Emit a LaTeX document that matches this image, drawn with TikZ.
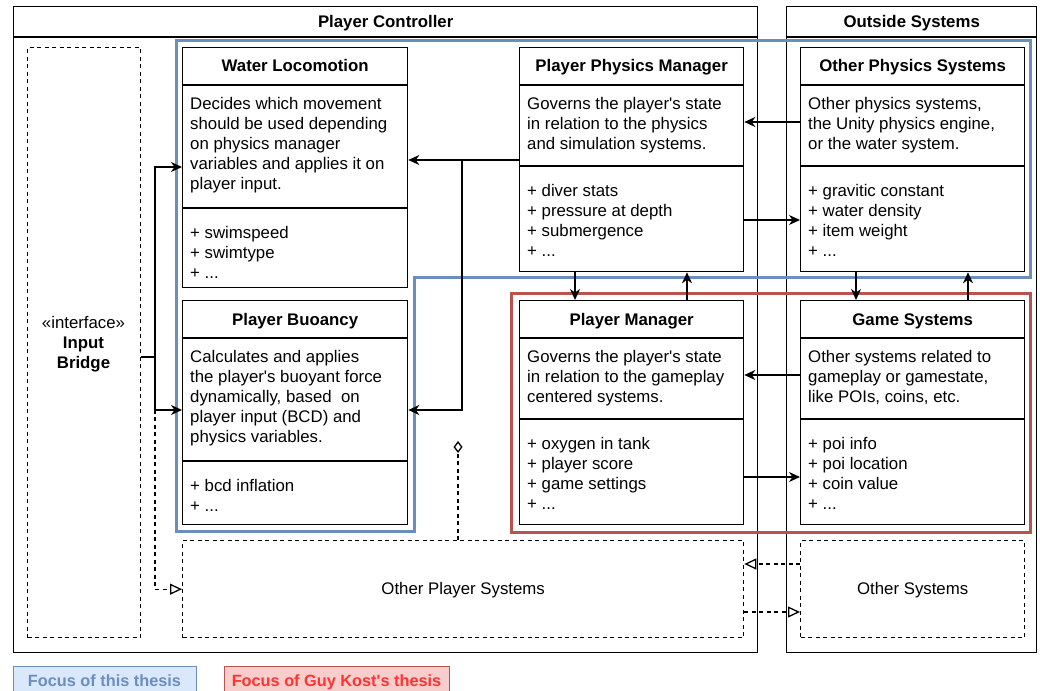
\documentclass[tikz,border=0pt]{standalone}
\usepackage{fontspec}
\setmainfont{Liberation Sans}
\usetikzlibrary{arrows.meta,calc}
\newcommand\fs{\fontsize{16.8}{20}\selectfont}
\newcommand\aq{\textquotesingle}
\definecolor{bluef}{RGB}{108,142,191}
\definecolor{bluefill}{RGB}{218,232,252}
\definecolor{redf}{RGB}{184,84,80}
\definecolor{redfill}{RGB}{248,206,204}
\definecolor{redtext}{RGB}{255,51,51}
\tikzset{
 cbox/.style={draw, line width=1.3pt, anchor=north west, inner sep=0pt, fill=white},
 ctitle/.style={font=\bfseries\fs, inner sep=0pt, anchor=base},
 ctext/.style={anchor=north west, inner sep=0pt, align=left, font=\fs},
 cline/.style={line width=1.3pt},
 arr/.style={line width=1.3pt, -{Stealth[length=11pt,width=10pt,inset=3.5pt]}},
 dsh/.style={line width=1.35pt, dash pattern=on 4pt off 3.5pt},
 opentri/.style={-{Triangle[open,length=12pt,width=11pt,fill=white,line width=1.3pt]}},
 frame/.style={draw, line width=1.4pt, anchor=north west, inner sep=0pt},
 dbox/.style={draw, dsh, anchor=north west, inner sep=0pt, font=\fs},
}
% #1 name, #2 x, #3 y, #4 width, #5 height, #6 divider offset, #7 title, #8 body, #9 attributes
\newcommand\classbox[9]{%
 \node[cbox, minimum width=#4pt, minimum height=#5pt] (#1) at (#2,#3) {};
 \node[ctitle] (#1-t) at ([yshift=-25pt]#1.north) {#7};
 \draw[cline] ([yshift=-38pt]#1.north west) -- ([yshift=-38pt]#1.north east);
 \draw[cline] ([yshift=-#6pt]#1.north west) -- ([yshift=-#6pt]#1.north east);
 \node[ctext] (#1-b) at ([xshift=8pt,yshift=-48pt]#1.north west) {\strut #8};
 \node[ctext] (#1-a) at ([xshift=8pt,yshift={-(#6pt+16pt)}]#1.north west) {\strut #9};
}
\begin{document}
\begin{tikzpicture}[x=1pt,y=-1pt]
\useasboundingbox (0,0) rectangle (1040,690);
% outer frames
\node[frame, minimum width=744pt, minimum height=646pt] (pc) at (13,6) {};
\draw[line width=1.4pt] ([yshift=-31pt]pc.north west) -- ([yshift=-31pt]pc.north east);
\node[font=\bfseries\fs, anchor=base, inner sep=0pt] (pct) at ([yshift=-22pt]pc.north) {Player Controller};
\node[frame, minimum width=250pt, minimum height=646pt] (os) at (786,6) {};
\draw[line width=1.4pt] ([yshift=-31pt]os.north west) -- ([yshift=-31pt]os.north east);
\node[font=\bfseries\fs, anchor=base, inner sep=0pt] (ost) at ([yshift=-22pt]os.north) {Outside Systems};
% focus regions
\draw[bluef, line width=3pt] (176,41) -- (1030,41) -- (1030,277) -- (414,277) -- (414,531) -- (176,531) -- cycle;
\draw[redf, line width=3pt] (511,293) rectangle (1030,532);
% input bridge
\node[dbox, minimum width=113pt, minimum height=590pt] (ib) at (27,47) {};
\node[font=\fs, align=center] (ibt) at (83.5,344) {«interface»\\\textbf{Input}\\\textbf{Bridge}};
% class boxes
\classbox{wl}{182}{47}{225}{240}{161}{Water Locomotion}{Decides which movement\\should be used depending\\on physics manager\\variables and applies it on\\player input.}{+ swimspeed\\+ swimtype\\+ ...}
\classbox{pb}{182}{300}{225}{224}{161}{Player Buoancy}{Calculates and applies\\the player\aq s buoyant force\\dynamically, based\ \ on\\player input (BCD) and\\physics variables.}{+ bcd inflation\\+ ...}
\classbox{ppm}{519}{47}{224}{224}{119}{Player Physics Manager}{Governs the player\aq s state\\in relation to the physics\\and simulation systems.}{+ diver stats\\+ pressure at depth\\+ submergence\\+ ...}
\classbox{ops}{800}{47}{224}{224}{119}{Other Physics Systems}{Other physics systems,\\the Unity physics engine,\\or the water system.}{+ gravitic constant\\+ water density\\+ item weight\\+ ...}
\classbox{pm}{519}{300}{224}{224}{119}{Player Manager}{Governs the player\aq s state\\in relation to the gameplay\\centered systems.}{+ oxygen in tank\\+ player score\\+ game settings\\+ ...}
\classbox{gs}{800}{300}{224}{224}{119}{Game Systems}{Other systems related to\\gameplay or gamestate,\\like POIs, coins, etc.}{+ poi info\\+ poi location\\+ coin value\\+ ...}
% dashed boxes
\node[dbox, minimum width=561pt, minimum height=97pt] (opsys) at (182,540) {};
\node[font=\fs] (opsyst) at ([yshift=-1pt]opsys.center) {Other Player Systems};
\node[dbox, minimum width=224pt, minimum height=97pt] (osys) at (800,540) {};
\node[font=\fs] (osyst) at ([yshift=-1pt]osys.center) {Other Systems};
% connectors
\coordinate (j1) at ([xshift=-57pt,yshift=-113pt]ppm.north west);
\draw[arr] ([yshift=-113pt]ppm.north west) -- ([yshift=-113pt]wl.north east);
\draw[arr] (j1) |- ([yshift=-110pt]pb.north east);
\coordinate (j2) at ([xshift=13.5pt,yshift=-310pt]ib.north east);
\draw[dsh, opentri] (j2) |- (opsys.west);
\draw[cline] ([yshift=-310pt]ib.north east) -- (j2);
\draw[arr] (j2) |- ([yshift=-120pt]wl.north west);
\draw[arr] (j2) |- ([yshift=-110pt]pb.north west);
\draw[arr] ([yshift=-75pt]ops.north west) -- ([yshift=-75pt]ppm.north east);
\draw[arr] ([yshift=-173pt]ppm.north east) -- ([yshift=-173pt]ops.north west);
\draw[arr] ([xshift=56pt]ppm.south west) -- ([xshift=56pt]pm.north west);
\draw[arr] ([xshift=168pt]pm.north west) -- ([xshift=168pt]ppm.south west);
\draw[arr] ([xshift=56pt]ops.south west) -- ([xshift=56pt]gs.north west);
\draw[arr] ([xshift=168pt]gs.north west) -- ([xshift=168pt]ops.south west);
\draw[arr] ([yshift=-75pt]gs.north west) -- ([yshift=-75pt]pm.north east);
\draw[arr] ([yshift=-177pt]pm.north east) -- ([yshift=-177pt]gs.north west);
\draw[dsh, opentri] ([yshift=-24pt]osys.north west) -- ([yshift=-24pt]opsys.north east);
\draw[dsh, opentri] ([yshift=-72pt]opsys.north east) -- ([yshift=-72pt]osys.north west);
\coordinate (dia) at (458,441);
\draw[dsh, -{Diamond[open,length=12pt,width=9pt,fill=white,line width=1.3pt]}] ([xshift=276pt]opsys.north west) -- (dia);
% legend
\node[draw=bluef, line width=1.2pt, fill=bluefill, anchor=north west, minimum width=183pt, minimum height=30pt, inner sep=0pt] (lg1) at (13,666) {};
\node[text=bluef, font=\bfseries\fontsize{16.3}{20}\selectfont, anchor=base, inner sep=0pt] (lg1t) at (104.5,686) {Focus of this thesis};
\node[draw=redf, line width=1.2pt, fill=redfill, anchor=north west, minimum width=225pt, minimum height=30pt, inner sep=0pt] (lg2) at (224,666) {};
\node[text=redtext, font=\bfseries\fontsize{16.3}{20}\selectfont, anchor=base, inner sep=0pt] (lg2t) at (336.5,686) {Focus of Guy Kost\aq s thesis};
\end{tikzpicture}
\end{document}
